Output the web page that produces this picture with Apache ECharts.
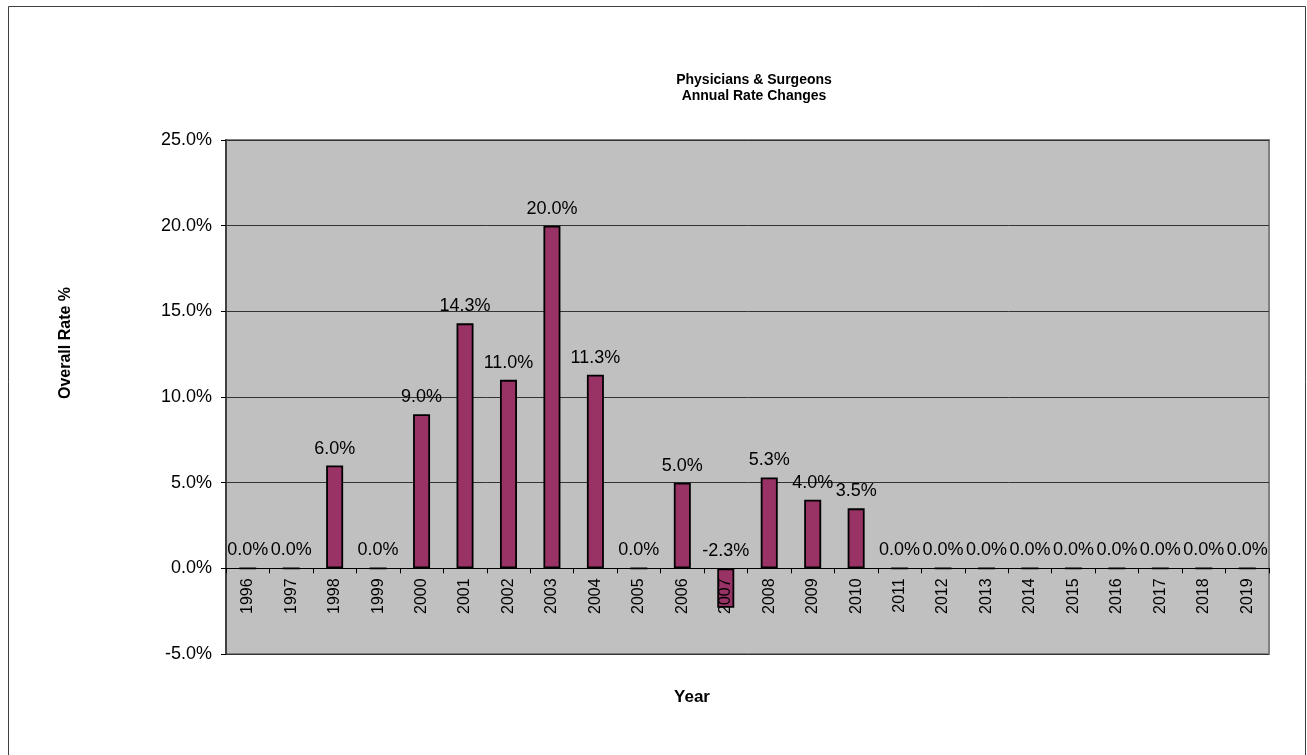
<!DOCTYPE html>
<html>
<head>
<meta charset="utf-8">
<script src="https://cdn.jsdelivr.net/npm/echarts@6/dist/echarts.min.js"></script>
<style>
html,body{margin:0;padding:0;background:#fff;}
#chart{width:1307px;height:755px;}
</style>
</head>
<body>
<div id="chart"></div>
<script>
const categories = ['1996','1997','1998','1999','2000','2001','2002','2003','2004','2005','2006','2007','2008','2009','2010','2011','2012','2013','2014','2015','2016','2017','2018','2019'];
const rateValues = [0.0, 0.0, 6.0, 0.0, 9.0, 14.3, 11.0, 20.0, 11.3, 0.0, 5.0, -2.3, 5.3, 4.0, 3.5, 0.0, 0.0, 0.0, 0.0, 0.0, 0.0, 0.0, 0.0, 0.0];
const titleLines = ['Physicians & Surgeons', 'Annual Rate Changes'];
const yAxisTitle = 'Overall Rate %';
const xAxisTitle = 'Year';
const yMin = -5, yMax = 25, yStep = 5;

const FONT = "'Liberation Sans', Arial, sans-serif";
const GRID_TOP = 140, GRID_BOTTOM_PX = 654;
const zeroOffset = -(GRID_BOTTOM_PX - GRID_TOP) * (0 - yMin) / (yMax - yMin);

const chart = echarts.init(document.getElementById('chart'), null, {renderer: 'canvas'});
chart.setOption({
  animation: false,
  backgroundColor: '#ffffff',
  title: {
    text: titleLines.join('\n'),
    left: 749, top: 67, textAlign: 'center',
    textStyle: {fontFamily: FONT, fontWeight: 'bold', fontSize: 14, lineHeight: 16, color: '#000'}
  },
  graphic: [
    {type: 'rect', shape: {x: 8.5, y: 6.5, width: 1297, height: 760}, style: {fill: 'none', stroke: '#404040', lineWidth: 1}, silent: true, z: -10},
    {type: 'text', x: 66, y: 343, rotation: Math.PI / 2, style: {text: yAxisTitle, font: 'bold 16px ' + FONT, fill: '#000', textAlign: 'center', textVerticalAlign: 'middle'}},
    {type: 'text', x: 692, y: 697, style: {text: xAxisTitle, font: 'bold 17px ' + FONT, fill: '#000', textAlign: 'center', textVerticalAlign: 'middle'}}
  ],
  grid: {left: 226, top: GRID_TOP, right: 1307 - 1269, bottom: 755 - GRID_BOTTOM_PX, show: true, backgroundColor: '#C0C0C0', borderColor: '#808080', borderWidth: 2},
  xAxis: {
    type: 'category', data: categories, z: 5,
    offset: zeroOffset,
    axisLine: {onZero: false, lineStyle: {color: '#000', width: 1}},
    axisTick: {show: true, length: 5, alignWithLabel: false, lineStyle: {color: '#000'}},
    axisLabel: {rotate: 90, margin: 10, fontSize: 16, fontFamily: FONT, color: '#000', interval: 0},
    splitLine: {show: false}
  },
  yAxis: {
    type: 'value', min: yMin, max: yMax, interval: yStep,
    axisLine: {show: true, lineStyle: {color: '#404040', width: 2}},
    axisTick: {show: true, length: 5, lineStyle: {color: '#000'}},
    axisLabel: {formatter: v => v.toFixed(1) + '%', fontSize: 18, fontFamily: FONT, color: '#000', margin: 14},
    splitLine: {show: true, lineStyle: {color: '#333', width: 1}}
  },
  series: [{
    type: 'bar', data: rateValues, barWidth: 17,
    itemStyle: {color: '#993366', borderColor: '#000', borderWidth: 1.8},
    label: {show: true, position: 'top', distance: 8, formatter: p => p.value.toFixed(1) + '%', fontSize: 18, fontFamily: FONT, color: '#000'}
  }]
});
</script>
</body>
</html>
